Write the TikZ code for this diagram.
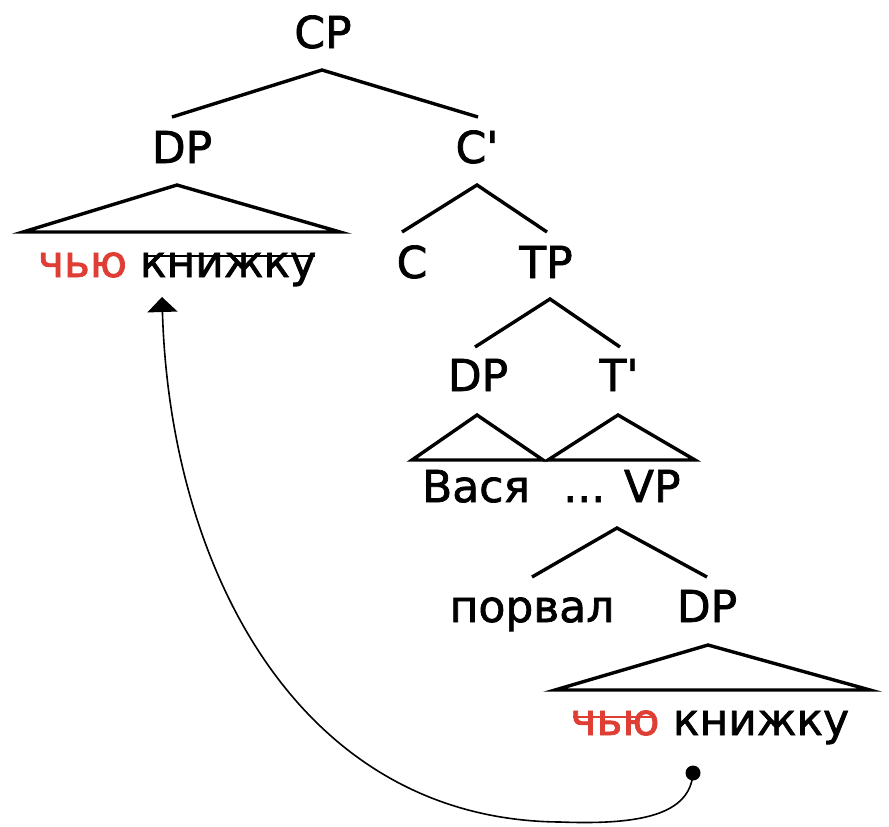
\documentclass[tikz,border=0pt]{standalone}
\usepackage{fontspec}
\newfontfamily\lblfont[Ligatures=TeXOff,FakeBold=1.6]{DejaVu Sans}
\usetikzlibrary{calc,arrows.meta}
\definecolor{wred}{RGB}{222,62,52}
\tikzset{
  lab/.style={font=\lblfont\fontsize{22pt}{26pt}\selectfont, inner sep=0pt, anchor=base, text=black},
  redlab/.style={lab, text=wred},
  br/.style={line width=1.7pt, line join=miter, line cap=butt},
  tri/.style={line width=1.7pt, line join=miter},
  strikeblack/.style={line width=1.3pt, black},
  strikered/.style={line width=1.3pt, wred},
  movecurve/.style={line width=0.8pt, -{Triangle[width=15pt,length=7.5pt]}},
  dotstyle/.style={circle, fill=black, inner sep=0pt, minimum size=7.5pt}
}
\begin{document}
\begin{tikzpicture}[x=0.5pt,y=-0.5pt]
\useasboundingbox (0,0) rectangle (889,826);
% labels
\node[lab] (CP) at (323,48) {CP};
\node[lab] (DP1) at (182,163) {DP};
\node[lab] (C1) at (477,163) {C'};
\node[redlab] (w1) at (82.5,277) {чью};
\node[lab] (k1) at (228,277) {книжку};
\node[lab] (C) at (412,278) {C};
\node[lab] (TP) at (546,278) {TP};
\node[lab] (DP2) at (478,391) {DP};
\node[lab] (T1) at (619,391) {T'};
\node[lab] (vasja) at (476,502) {Вася};
\node[lab] (VP) at (622,502) {... VP};
\node[lab] (porval) at (532,622) {порвал};
\node[lab] (DP3) at (707,622) {DP};
\node[redlab] (w2) at (615,735) {чью};
\node[lab] (k2) at (761,735) {книжку};
% branches
\draw[br] ($(DP1.base)+(-10,-46)$) -- ($(CP.base)+(-1,22)$) -- ($(C1.base)+(1,-46)$);
\draw[tri] ($(w1.base)+(-59.5,-45)$) -- ($(DP1.base)+(-5,22)$) -- ($(k1.base)+(112,-45)$) -- cycle;
\draw[br] ($(C.base)+(-10,-46)$) -- ($(C1.base)+(0,22)$) -- ($(TP.base)+(1,-46)$);
\draw[br] ($(DP2.base)+(-3,-44)$) -- ($(TP.base)+(4,21)$) -- ($(T1.base)+(1,-44)$);
\draw[tri] ($(vasja.base)+(-64,-42)$) -- ($(DP2.base)+(-1,24)$) -- ($(vasja.base)+(67,-42)$) -- cycle;
\draw[tri] ($(VP.base)+(-74,-42)$) -- ($(T1.base)+(-1,24)$) -- ($(VP.base)+(73,-42)$) -- cycle;
\draw[br] ($(porval.base)+(0,-45)$) -- ($(VP.base)+(-5,26)$) -- ($(DP3.base)+(0,-45)$);
\draw[tri] ($(w2.base)+(-60,-45)$) -- ($(DP3.base)+(1,23)$) -- ($(k2.base)+(109,-45)$) -- cycle;
% strike-throughs
\draw[strikeblack] ($(k1.base)+(-83,-21)$) -- ($(k1.base)+(87,-21)$);
\draw[strikered] ($(w2.base)+(-42,-18)$) -- ($(w2.base)+(37,-18)$);
% movement
\node[dotstyle] (dot) at (693,773) {};
\coordinate (tgt) at ($(k1.base)+(-66,20)$);
\draw[movecurve] (dot.center) .. controls (690,815) and (640,825) .. (560,822)
  .. controls (300,820) and (170,570) .. (tgt);
\end{tikzpicture}
\end{document}
